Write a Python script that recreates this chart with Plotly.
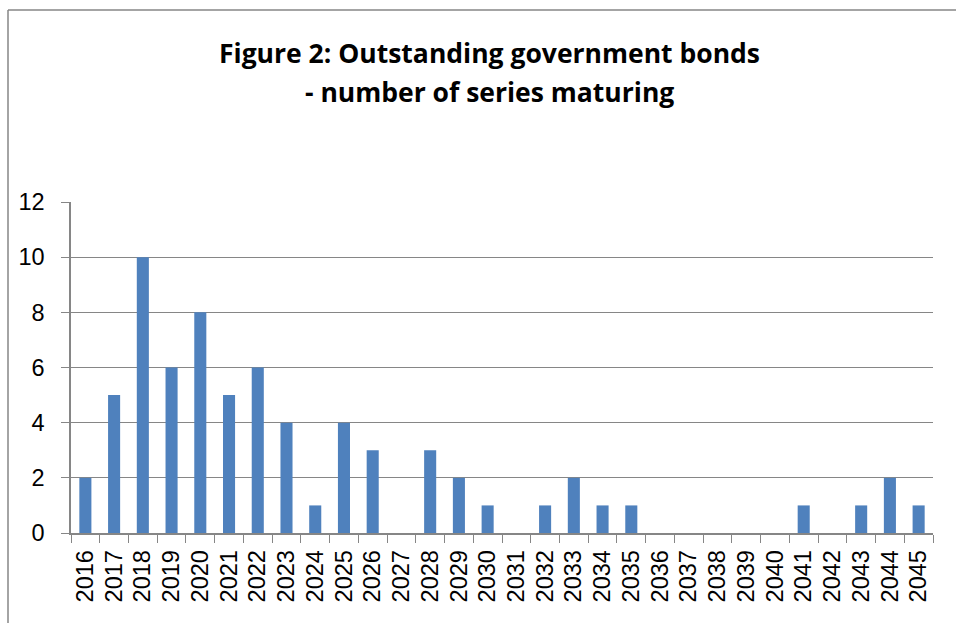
import plotly.graph_objects as go

years = [str(y) for y in range(2016, 2046)]
counts = [2, 5, 10, 6, 8, 5, 6, 4, 1, 4, 3, 0, 3, 2, 1, 0, 1, 2, 1, 1,
          0, 0, 0, 0, 0, 1, 0, 1, 2, 1]
y_ticks = [0, 2, 4, 6, 8, 10, 12]
title_lines = ["Figure 2: Outstanding government bonds", "- number of series maturing"]

fig = go.Figure()
fig.add_trace(go.Bar(x=years, y=counts, marker=dict(color="#4F81BD", line=dict(width=0)),
                     width=0.42, showlegend=False))

L, R, T, B = 71, 23, 202, 90
W, H = 956, 623
pw, ph = W - L - R, H - T - B

fig.update_layout(
    width=W, height=H,
    margin=dict(l=L, r=R, t=T, b=B),
    paper_bgcolor="white", plot_bgcolor="white",
    font=dict(family="Liberation Sans", color="black"),
    xaxis=dict(type="category", tickangle=-90, tickson="boundaries", ticks="outside",
               ticklen=8, tickcolor="#868686", showline=True, linecolor="#868686",
               linewidth=1.5, showgrid=False, tickfont=dict(size=23.5, family="Liberation Sans"),
               ticklabelstandoff=6, range=[-0.5, len(years) - 0.5]),
    yaxis=dict(range=[0, 12], tickvals=y_ticks, ticks="outside", ticklen=8,
               tickcolor="#868686", showline=True, linecolor="#868686", linewidth=1.5,
               showgrid=True, gridcolor="#868686", gridwidth=1.2, zeroline=False,
               ticklabelstandoff=12,
               tickfont=dict(size=23.5, family="Liberation Sans")),
)

for txt, ypix in zip(title_lines, [53, 92]):
    fig.add_annotation(text="<b>" + txt + "</b>", xref="paper", yref="paper",
                       x=(489 - L) / pw, y=(H - B - ypix) / ph, xanchor="center",
                       yanchor="middle", showarrow=False,
                       font=dict(family="Open Sans", size=26.5, color="black"))

# chart frame (left and top edges visible)
fig.add_shape(type="line", xref="paper", yref="paper",
              x0=(8 - L) / pw, x1=(W + 5 - L) / pw,
              y0=(H - B - 10) / ph, y1=(H - B - 10) / ph,
              line=dict(color="#868686", width=1.5))
fig.add_shape(type="line", xref="paper", yref="paper",
              x0=(8 - L) / pw, x1=(8 - L) / pw,
              y0=(H - B - 10) / ph, y1=(H - B - H - 5) / ph,
              line=dict(color="#868686", width=1.5))

fig.write_html("out.html")
